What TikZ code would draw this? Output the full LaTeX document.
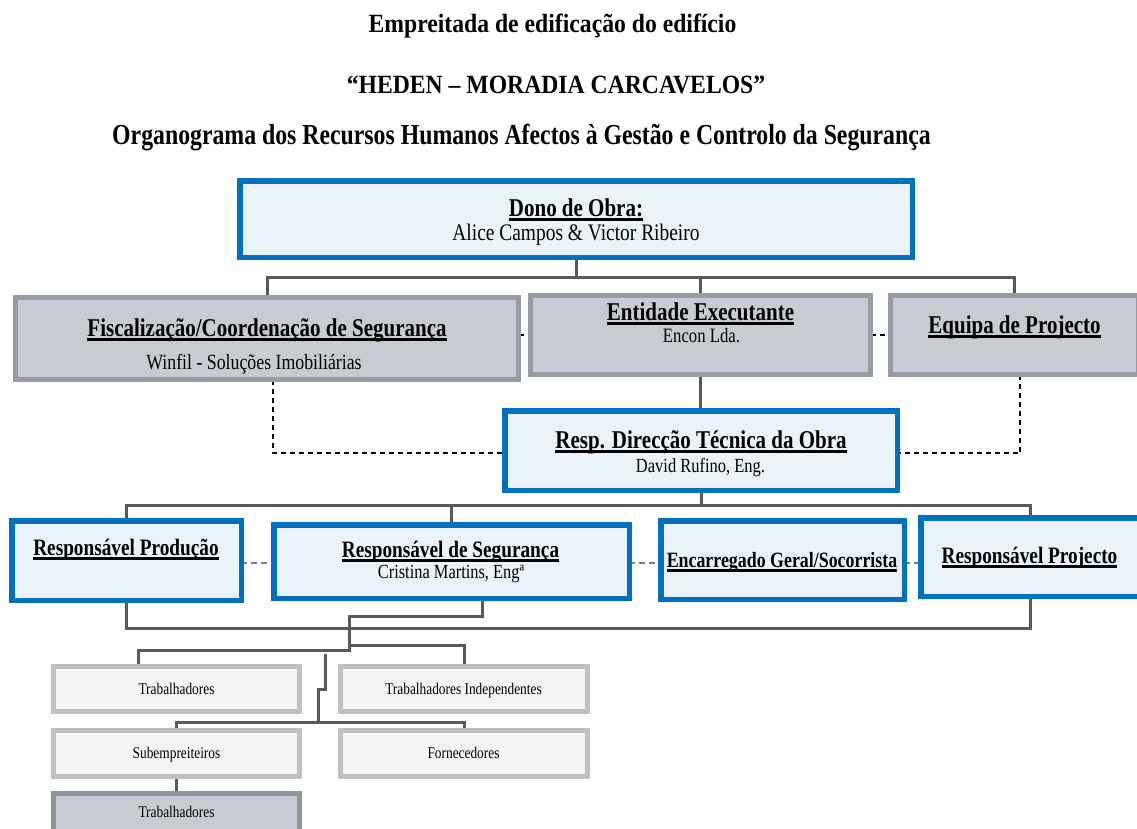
\documentclass[tikz,border=0pt]{standalone}
\usepackage{fontspec}
\setmainfont{Liberation Serif}
\newfontfamily\cn[FakeStretch=0.82]{Liberation Serif}
\newfontfamily\cnt[FakeStretch=0.9]{Liberation Serif}
\usetikzlibrary{calc}
\pgfdeclarelayer{bg}
\pgfsetlayers{bg,main}
\newcommand\ulh[1]{\leavevmode\setbox0\hbox{#1}\rlap{\vrule height -2.4pt depth 5.2pt width \wd0}\box0}
\definecolor{bblue}{HTML}{0070C0}
\definecolor{lblue}{HTML}{EBF3FA}
\definecolor{gfill}{HTML}{C8CCD2}
\definecolor{gbord}{HTML}{959CA4}
\definecolor{lfill}{HTML}{F5F5F5}
\definecolor{lbord}{HTML}{C0C0C0}
\definecolor{dfill}{HTML}{C8CCD2}
\definecolor{dbord}{HTML}{8E959C}
\definecolor{cline}{HTML}{5A5A5A}
\definecolor{dgray}{HTML}{7F7F7F}
\begin{document}
\begin{tikzpicture}[x=1pt,y=-1pt,
  box/.style={rectangle,inner sep=0pt,outer sep=0pt},
  bluebox/.style={box,draw=bblue,fill=lblue,line width=5.5pt},
  graybox/.style={box,draw=gbord,fill=gfill,line width=5pt},
  lightbox/.style={box,draw=lbord,fill=lfill,line width=5pt},
  darkbox/.style={box,draw=dbord,fill=dfill,line width=5pt},
  txt/.style={inner sep=0pt,anchor=base},
  ttl/.style={txt,font=\cnt\bfseries\fontsize{26.3}{30}\selectfont},
  ttlb/.style={txt,font=\cn\bfseries\fontsize{29}{32}\selectfont},
  hd/.style={txt,font=\cn\bfseries\fontsize{25.6}{28}\selectfont},
  hdr/.style={txt,font=\cn\bfseries\fontsize{23.5}{26}\selectfont},
  hdrs/.style={txt,font=\cn\bfseries\fontsize{21.8}{24}\selectfont},
  sub/.style={txt,font=\cn\fontsize{#1}{#1}\selectfont},
  sml/.style={txt,font=\cn\fontsize{16.3}{18}\selectfont},
  conn/.style={draw=cline,line width=3pt,line join=miter},
  dsh/.style={draw=black,line width=1.4pt,dash pattern=on 5pt off 4pt},
  gdsh/.style={draw=dgray,line width=2.4pt,dash pattern=on 6pt off 4pt}]
\useasboundingbox (0,0) rectangle (1137,828);
\begin{pgfonlayer}{bg}
\fill[white] (0,0) rectangle (1137,828);
\end{pgfonlayer}

% titles
\node[ttl] (t1) at (552.5,32) {Empreitada de edificação do edifício};
\node[ttl] (t2) at (556,93) {“HEDEN – MORADIA CARCAVELOS”};
\node[ttlb] (t3) at (521.5,144) {Organograma dos Recursos Humanos Afectos à Gestão e Controlo da Segurança};

% boxes
\node[bluebox,minimum width=672.5pt,minimum height=76.5pt] (dono) at (576,219) {};
\node[graybox,minimum width=503pt,minimum height=82pt] (fisc) at (267,338.5) {};
\node[graybox,minimum width=340pt,minimum height=79pt] (ent) at (700.5,335) {};
\node[graybox,minimum width=248pt,minimum height=79pt] (equipa) at (1014.5,335) {};
\node[bluebox,minimum width=392.5pt,minimum height=79.5pt] (resp) at (701,450.5) {};
\node[bluebox,minimum width=229.5pt,minimum height=79.5pt] (prod) at (126.5,560.5) {};
\node[bluebox,minimum width=355.5pt,minimum height=73.5pt] (seg) at (451.5,561.5) {};
\node[bluebox,minimum width=243.5pt,minimum height=78.5pt] (enc) at (782.5,560) {};
\node[bluebox,minimum width=218.5pt,minimum height=78.5pt] (proj) at (1030,557) {};
\node[lightbox,minimum width=246pt,minimum height=45pt] (trab1) at (176.5,689) {};
\node[lightbox,minimum width=247pt,minimum height=45pt] (trabind) at (464,689) {};
\node[lightbox,minimum width=246pt,minimum height=46pt] (subemp) at (176.5,753.5) {};
\node[lightbox,minimum width=247pt,minimum height=46pt] (fornec) at (464,753.5) {};
\node[darkbox,minimum width=246pt,minimum height=42pt] (trab2) at (176.5,814.5) {};

% texts
\node[hd] (donoh) at (576,216) {\ulh{Dono de Obra:}};
\node[sub=23.7] (donos) at (576,240) {Alice Campos \& Victor Ribeiro};
\node[hd] (fisch) at (267,336) {\ulh{Fiscalização/Coordenação de Segurança}};
\node[sub=21.7] (fiscs) at (254,369) {Winfil - Soluções Imobiliárias};
\node[hd] (enth) at (700.5,320) {\ulh{Entidade Executante}};
\node[sub=20.4] (ents) at (701.5,342) {Encon Lda.};
\node[hd] (equipah) at (1014.5,333) {\ulh{Equipa de Projecto}};
\node[hd] (resph) at (701,448) {\ulh{Resp. Direcção Técnica da Obra}};
\node[sub=20.1] (resps) at (700.5,472) {David Rufino, Eng.};
\node[hdr] (prodh) at (126,555) {\ulh{Responsável Produção}};
\node[hdr] (segh) at (450.5,557) {\ulh{Responsável de Segurança}};
\node[sub=20] (segs) at (451,578) {Cristina Martins, Engª};
\node[hdrs] (ench) at (782,567) {\ulh{Encarregado Geral/Socorrista}};
\node[hdr] (projh) at (1029.5,563) {\ulh{Responsável Projecto}};
\node[sml] (trab1t) at (176.5,694) {Trabalhadores};
\node[sml] (trabindt) at (463.5,694) {Trabalhadores Independentes};
\node[sml] (subempt) at (176.5,758) {Subempreiteiros};
\node[sml] (fornect) at (463.5,758) {Fornecedores};
\node[sml] (trab2t) at (176.5,817) {Trabalhadores};

% connectors
\coordinate (r1) at (0,277);
\coordinate (r2) at (0,505);
\coordinate (r3) at (0,628);
\coordinate (k1) at (349,616);
\coordinate (k2) at (349,645);
\coordinate (k3) at (349,650);
\coordinate (k4) at (325,654);
\coordinate (k5) at (318,722);
\begin{pgfonlayer}{bg}
\draw[conn] (dono.south) -- (dono.south |- r1);
\draw[conn] (fisc.north) -- (fisc.north |- r1) -- (equipa.north |- r1) -- (equipa.north);
\draw[conn] (ent.north) -- (ent.north |- r1);
\draw[conn] (ent.south) -- (ent.south |- resp.north);
\draw[dsh] (fisc.east |- ent.west) -- (ent.west);
\draw[dsh] (ent.east) -- (equipa.west);
\draw[dsh] ([xshift=6pt]fisc.south) |- ([yshift=-2.5pt]resp.west);
\draw[dsh] ([xshift=5.5pt]equipa.south) |- ([yshift=-2.5pt]resp.east);
\draw[conn] (resp.south) -- (resp.south |- r2);
\draw[conn] (prod.north) -- (prod.north |- r2) -- (proj.north |- r2) -- (proj.north);
\draw[conn] (seg.north) -- (seg.north |- r2);
\draw[gdsh] ([yshift=-2.5pt]prod.east) -- ([yshift=-2.5pt]prod.east -| seg.west);
\draw[gdsh] ([yshift=-1.5pt]seg.east) -- ([yshift=-1.5pt]seg.east -| enc.west);
\draw[gdsh] ([yshift=-3pt]enc.east) -- ([yshift=-3pt]enc.east -| proj.west);
\draw[conn] (prod.south) -- (prod.south |- r3) -- (proj.south |- r3) -- (proj.south);
\draw[conn] ([xshift=30.5pt]seg.south) |- (k1) -- (k3) -| ([xshift=-38.5pt]trab1.north);
\draw[conn] (k2) -| (trabind.north);
\draw[conn] (k4) -- ++(0,35) -| (k5);
\draw[conn] (subemp.north) |- (k5) -| (fornec.north);
\draw[conn] (subemp.south) -- (trab2.north);
\end{pgfonlayer}
\end{tikzpicture}
\end{document}
